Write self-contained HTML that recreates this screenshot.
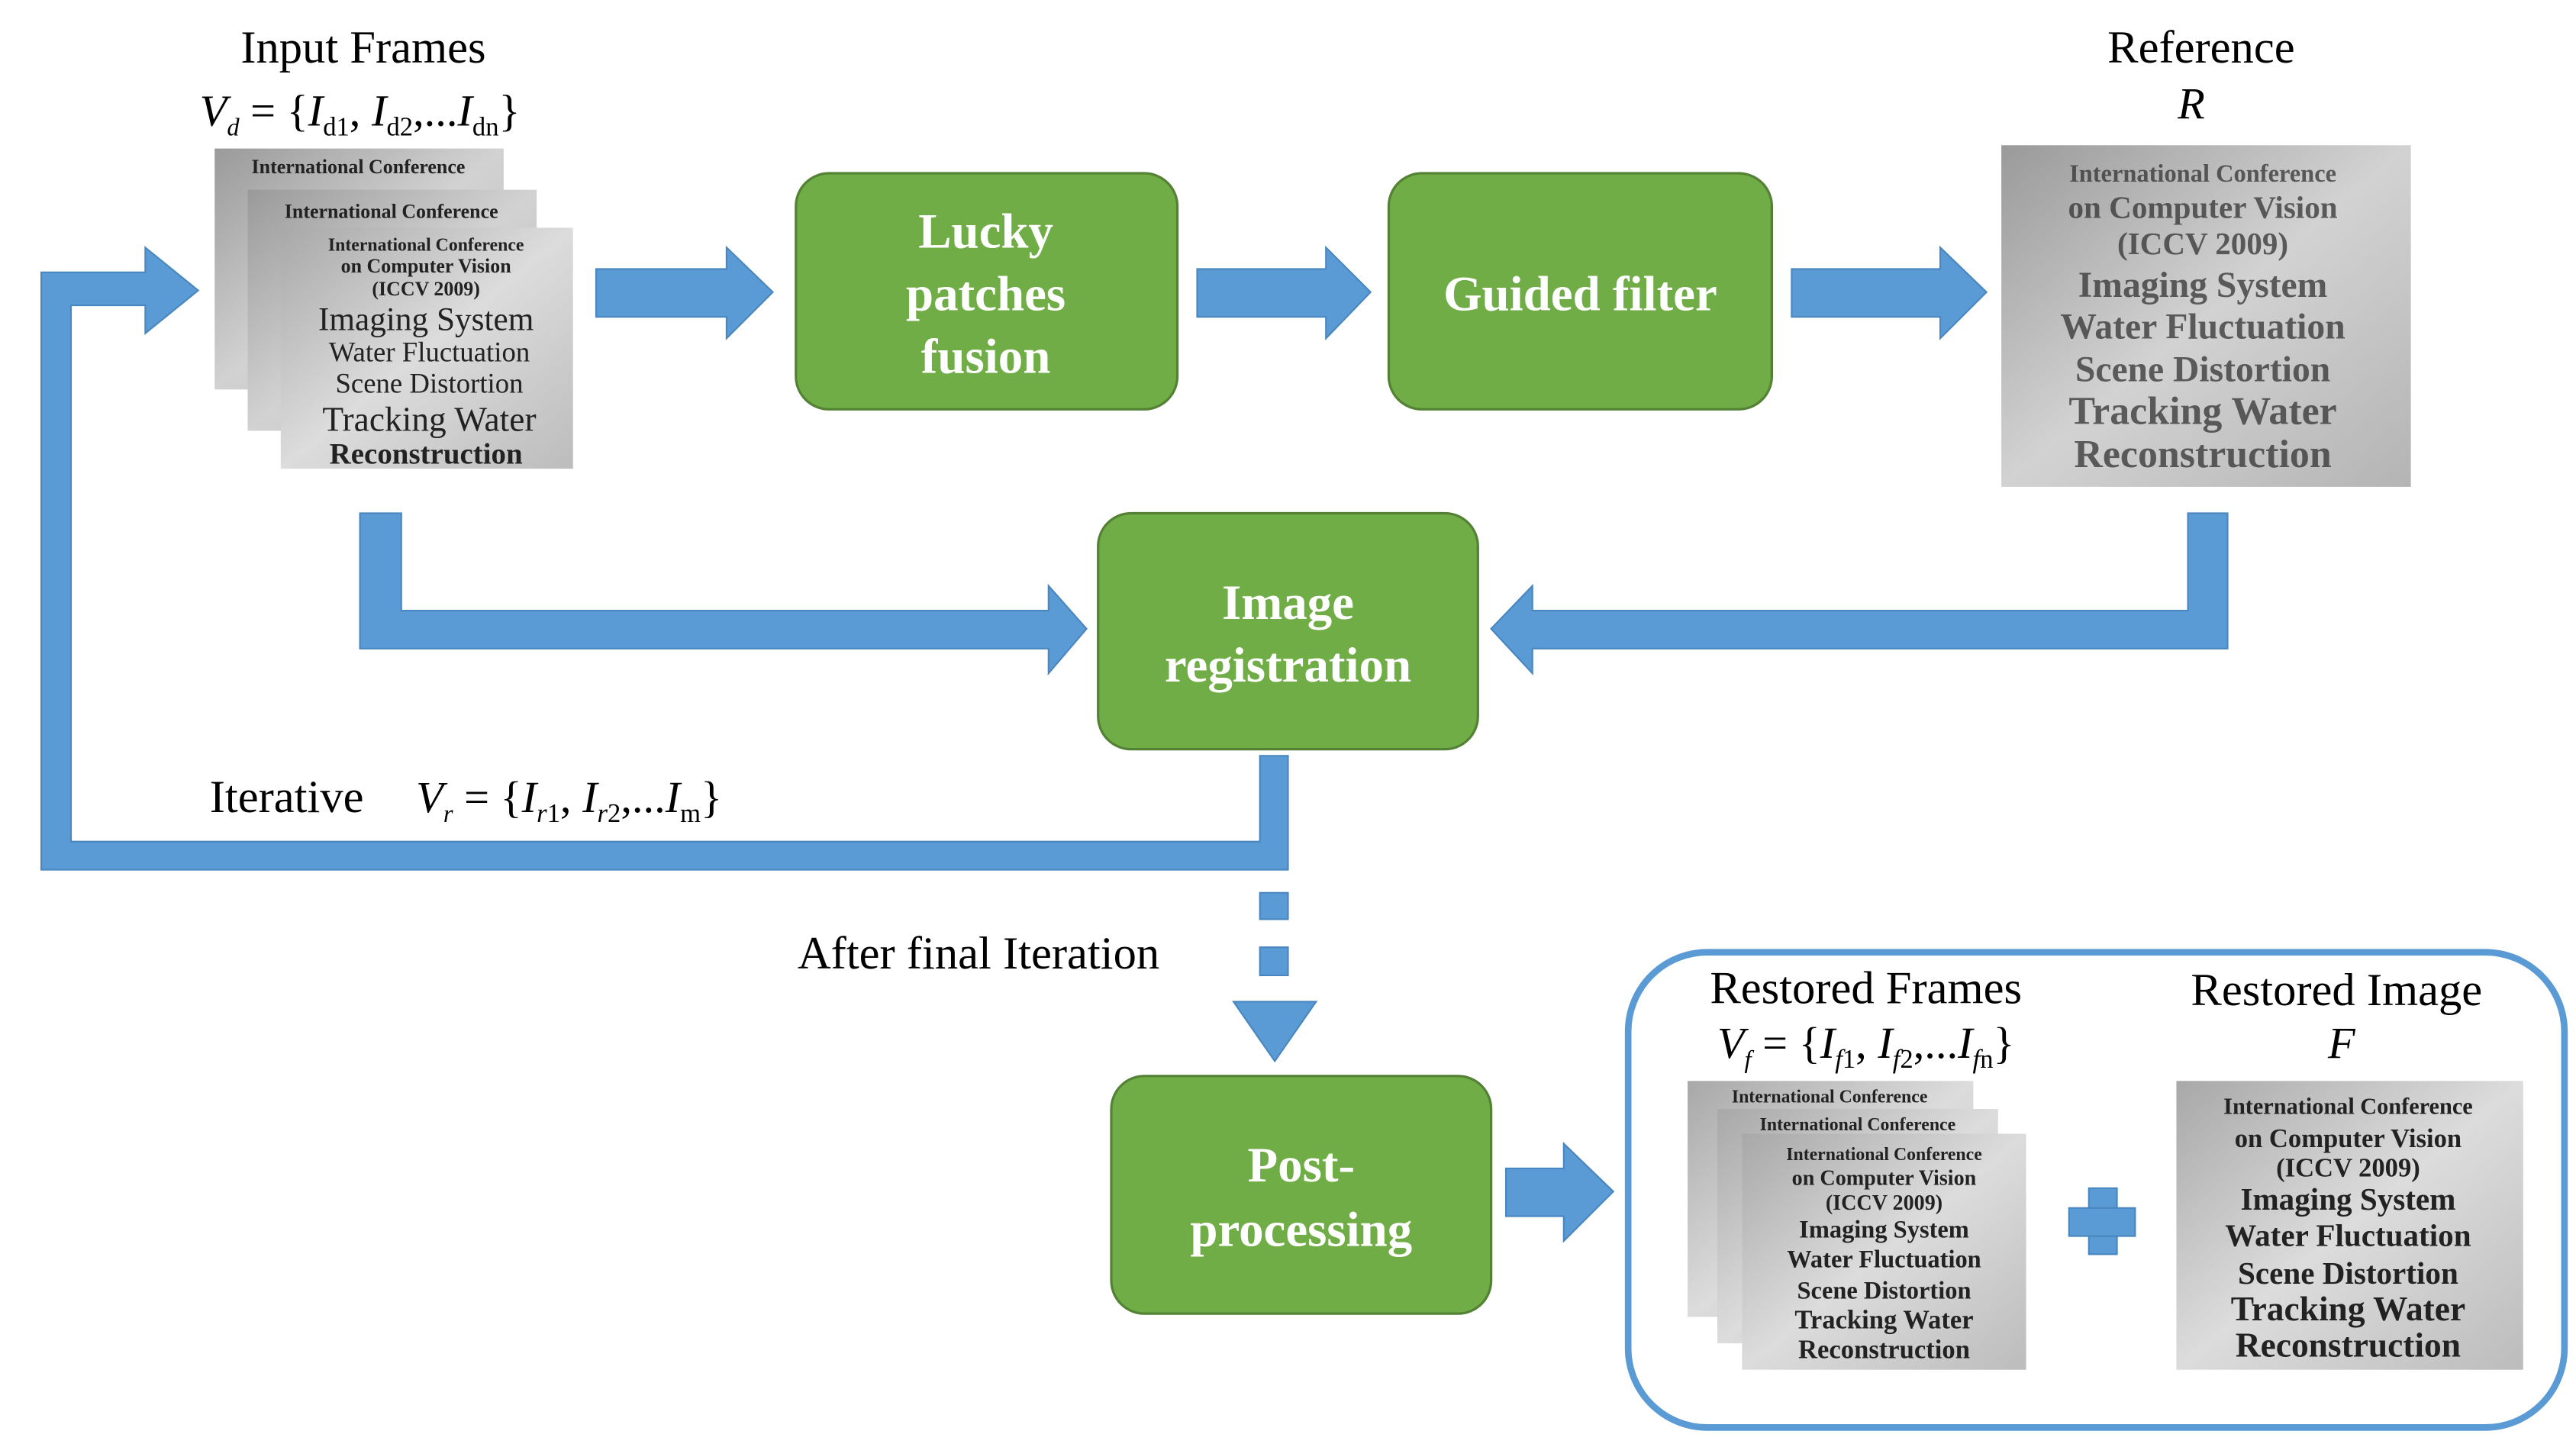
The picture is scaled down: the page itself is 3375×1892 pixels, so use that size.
<!DOCTYPE html>
<html><head><meta charset="utf-8"><style>
html,body{margin:0;padding:0;background:#fff;}
svg{display:block;}
text{font-family:"Liberation Serif",serif;}
</style></head><body>
<svg width="3375" height="1892" viewBox="0 0 1560 875" preserveAspectRatio="none" xmlns="http://www.w3.org/2000/svg">
<defs>
<linearGradient id="g" x1="0" y1="0" x2="1" y2="1"><stop offset="0" stop-color="#9a9a9a"/><stop offset="0.5" stop-color="#d2d2d2"/><stop offset="1" stop-color="#b4b4b4"/></linearGradient>
<linearGradient id="g2" x1="0" y1="0" x2="1" y2="1"><stop offset="0" stop-color="#a8a8a8"/><stop offset="0.5" stop-color="#dcdcdc"/><stop offset="1" stop-color="#bcbcbc"/></linearGradient>
</defs>
<g fill="#000">
<text x="220" y="38" font-size="28" text-anchor="middle">Input Frames</text>
<text x="218" y="76" font-size="27" text-anchor="middle"><tspan font-style="italic">V</tspan><tspan font-size="15" font-style="italic" dy="6">d</tspan><tspan dy="-6"> = {</tspan><tspan font-style="italic">I</tspan><tspan font-size="16" dy="6">d1</tspan><tspan dy="-6">, </tspan><tspan font-style="italic">I</tspan><tspan font-size="16" dy="6">d2</tspan><tspan dy="-6">,...</tspan><tspan font-style="italic">I</tspan><tspan font-size="16" dy="6">dn</tspan><tspan dy="-6">}</tspan></text>
<text x="1333" y="38" font-size="28" text-anchor="middle">Reference</text>
<text x="1327" y="72" font-size="27" font-style="italic" text-anchor="middle">R</text>
<text x="127" y="492" font-size="28">Iterative</text>
<text x="252" y="492" font-size="27"><tspan font-style="italic">V</tspan><tspan font-size="15" font-style="italic" dy="6">r</tspan><tspan dy="-6"> = {</tspan><tspan font-style="italic">I</tspan><tspan font-size="16" font-style="italic" dy="6">r</tspan><tspan font-size="16" dy="0">1</tspan><tspan dy="-6">, </tspan><tspan font-style="italic">I</tspan><tspan font-size="16" font-style="italic" dy="6">r</tspan><tspan font-size="16">2</tspan><tspan dy="-6">,...</tspan><tspan font-style="italic">I</tspan><tspan font-size="16" dy="6">m</tspan><tspan dy="-6">}</tspan></text>
<text x="483" y="587" font-size="28">After final Iteration</text>
<text x="1130" y="608" font-size="28" text-anchor="middle">Restored Frames</text>
<text x="1130" y="641" font-size="27" text-anchor="middle"><tspan font-style="italic">V</tspan><tspan font-size="15" font-style="italic" dy="6">f</tspan><tspan dy="-6"> = {</tspan><tspan font-style="italic">I</tspan><tspan font-size="16" font-style="italic" dy="6">f</tspan><tspan font-size="16">1</tspan><tspan dy="-6">, </tspan><tspan font-style="italic">I</tspan><tspan font-size="16" font-style="italic" dy="6">f</tspan><tspan font-size="16">2</tspan><tspan dy="-6">,...</tspan><tspan font-style="italic">I</tspan><tspan font-size="16" font-style="italic" dy="6">f</tspan><tspan font-size="16">n</tspan><tspan dy="-6">}</tspan></text>
<text x="1415" y="609" font-size="28" text-anchor="middle">Restored Image</text>
<text x="1418" y="641" font-size="27" font-style="italic" text-anchor="middle">F</text>
</g>
<rect x="130" y="90" width="175" height="146" fill="url(#g)"/>
<rect x="150" y="115" width="175" height="146" fill="url(#g)"/>
<rect x="170" y="138" width="177" height="146" fill="url(#g2)"/>
<g fill="#222" font-weight="bold" text-anchor="middle">
<text x="217" y="105" font-size="12">International Conference</text>
<text x="237" y="132" font-size="12">International Conference</text>
<text x="258" y="152" font-size="11">International Conference</text>
<text x="258" y="165" font-size="12">on Computer Vision</text>
<text x="258" y="179" font-size="12">(ICCV 2009)</text>
<text x="258" y="200" font-size="20" font-weight="normal">Imaging System</text>
<text x="260" y="219" font-size="17" font-weight="normal">Water Fluctuation</text>
<text x="260" y="238" font-size="17" font-weight="normal">Scene Distortion</text>
<text x="260" y="261" font-size="21" font-weight="normal">Tracking Water</text>
<text x="258" y="281" font-size="18">Reconstruction</text>
</g>
<rect x="1212" y="88" width="248" height="207" fill="url(#g)"/>
<g fill="#333" font-weight="bold" text-anchor="middle" opacity="0.75">
<text x="1334" y="110" font-size="15">International Conference</text>
<text x="1334" y="132" font-size="19">on Computer Vision</text>
<text x="1334" y="154" font-size="19">(ICCV 2009)</text>
<text x="1334" y="180" font-size="22">Imaging System</text>
<text x="1334" y="205" font-size="22">Water Fluctuation</text>
<text x="1334" y="231" font-size="22">Scene Distortion</text>
<text x="1334" y="257" font-size="24">Tracking Water</text>
<text x="1334" y="283" font-size="24">Reconstruction</text>
</g>
<rect x="1022" y="655" width="173" height="143" fill="url(#g2)"/>
<rect x="1040" y="672" width="170" height="142" fill="url(#g2)"/>
<rect x="1055" y="687" width="172" height="143" fill="url(#g2)"/>
<g fill="#222" font-weight="bold" text-anchor="middle">
<text x="1108" y="668" font-size="11">International Conference</text>
<text x="1125" y="685" font-size="11">International Conference</text>
<text x="1141" y="703" font-size="11">International Conference</text>
<text x="1141" y="718" font-size="13">on Computer Vision</text>
<text x="1141" y="733" font-size="13">(ICCV 2009)</text>
<text x="1141" y="750" font-size="15">Imaging System</text>
<text x="1141" y="768" font-size="15">Water Fluctuation</text>
<text x="1141" y="787" font-size="15">Scene Distortion</text>
<text x="1141" y="805" font-size="16">Tracking Water</text>
<text x="1141" y="823" font-size="16">Reconstruction</text>
</g>
<rect x="1318" y="655" width="210" height="175" fill="url(#g2)"/>
<g fill="#222" font-weight="bold" text-anchor="middle">
<text x="1422" y="675" font-size="14">International Conference</text>
<text x="1422" y="695" font-size="16">on Computer Vision</text>
<text x="1422" y="713" font-size="16">(ICCV 2009)</text>
<text x="1422" y="733" font-size="19">Imaging System</text>
<text x="1422" y="755" font-size="19">Water Fluctuation</text>
<text x="1422" y="778" font-size="19">Scene Distortion</text>
<text x="1422" y="800" font-size="21">Tracking Water</text>
<text x="1422" y="822" font-size="21">Reconstruction</text>
</g>
<g fill="#5b9bd5" stroke="#4a86bf" stroke-width="1">
<polygon points="361,163 440,163 440,150 468,177 440,205 440,192 361,192"/>
<polygon points="725,163 803,163 803,150 830,177 803,205 803,192 725,192"/>
<polygon points="1085,163 1175,163 1175,150 1203,177 1175,205 1175,192 1085,192"/>
<polygon points="218,311 243,311 243,370 635,370 635,355 658,381 635,408 635,393 218,393"/>
<polygon points="1325,311 1349,311 1349,393 928,393 928,408 903,381 928,355 928,370 1325,370"/>
<polygon points="763,458 780,458 780,527 25,527 25,165 88,165 88,150 120,176 88,202 88,185 43,185 43,510 763,510"/>
<rect x="763" y="541" width="17" height="16"/>
<rect x="763" y="574" width="17" height="17"/>
<polygon points="747,607 797,607 772,643"/>
<polygon points="912,708 947,708 947,693 977,722 947,752 947,737 912,737"/>
<rect x="1265" y="720" width="17" height="40"/>
<rect x="1253" y="732" width="40" height="17"/>
</g>
<g fill="#70ad47" stroke="#548235" stroke-width="1.5">
<rect x="482" y="105" width="231" height="143" rx="20"/>
<rect x="841" y="105" width="232" height="143" rx="20"/>
<rect x="665" y="311" width="230" height="143" rx="20"/>
<rect x="673" y="652" width="230" height="144" rx="20"/>
</g>
<g fill="#fff" font-weight="bold" font-size="30" text-anchor="middle">
<text x="597" y="150">Lucky</text>
<text x="597" y="188">patches</text>
<text x="597" y="226">fusion</text>
<text x="957" y="188">Guided filter</text>
<text x="780" y="375">Image</text>
<text x="780" y="413">registration</text>
<text x="788" y="716">Post-</text>
<text x="788" y="755">processing</text>
</g>
<rect x="986" y="577" width="567" height="288" rx="48" fill="none" stroke="#5b9bd5" stroke-width="4"/>
</svg>
</body></html>
